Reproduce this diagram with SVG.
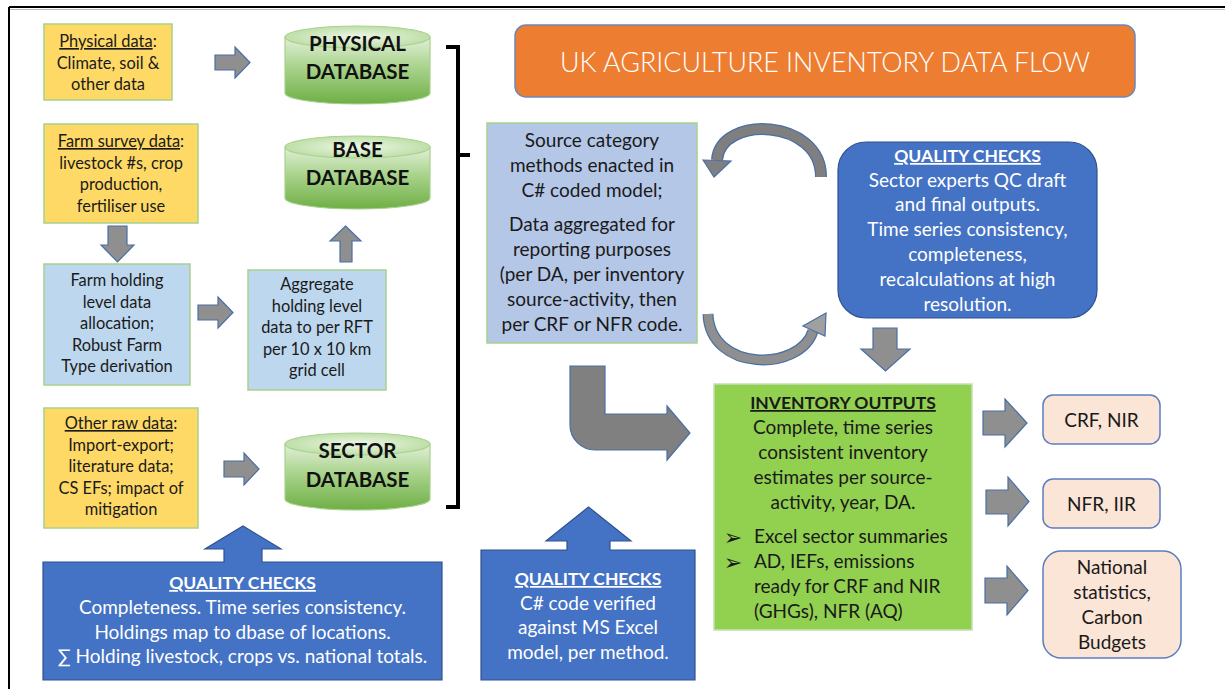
<svg xmlns="http://www.w3.org/2000/svg" width="1225" height="689" viewBox="0 0 1225 689">
<defs>
<linearGradient id="cylBody" x1="0" y1="0" x2="0" y2="1">
<stop offset="0" stop-color="#E2F0D9"/>
<stop offset="0.45" stop-color="#A9D38C"/>
<stop offset="1" stop-color="#6FAF45"/>
</linearGradient>
<radialGradient id="cylTop" cx="0.5" cy="0.5" r="0.6">
<stop offset="0" stop-color="#EEF7E8"/>
<stop offset="1" stop-color="#B5DA9B"/>
</radialGradient>
<style>
text{font-family:Lato,"Liberation Sans",sans-serif;text-anchor:middle;fill:#1a1a1a}
.t16{font-size:16.4px}
.t17{font-size:19px}
.h{font-size:17.5px;font-weight:bold;text-decoration:underline}
.w{fill:#ffffff}
.u{text-decoration:underline}
.yel{fill:#FFD966;stroke:#A9D18E;stroke-width:1.5}
.lb{fill:#BDD7EE;stroke:#A9D18E;stroke-width:1.5}
.qc{fill:#4472C4;stroke:#2F528F;stroke-width:1.2}
.arr{fill:#8F8F8F;stroke:#4A6FA5;stroke-width:1.2}
.out{fill:#FBE5D6;stroke:#5B7DC2;stroke-width:1.5}
.cyl{fill:url(#cylBody);stroke:#A9D18E;stroke-width:1.2}
.cyltop{fill:url(#cylTop);stroke:#A9D18E;stroke-width:1.2}
.dbt{font-size:20.5px;font-weight:bold;fill:#111}
.bul{font-family:"DejaVu Sans",sans-serif;font-size:22px;text-anchor:middle}
</style>
</defs>
<rect width="1225" height="689" fill="#ffffff"/>
<!-- frame -->
<line x1="9" y1="7" x2="1225" y2="7" stroke="#000" stroke-width="2"/>
<line x1="9" y1="9.5" x2="1225" y2="9.5" stroke="#BBBBBB" stroke-width="1"/>
<line x1="9" y1="7" x2="9" y2="689" stroke="#000" stroke-width="2"/>

<g id="title">
<rect x="515" y="25" width="620" height="72" rx="11" fill="#ED7D31" stroke="#6F87B8" stroke-width="1.5"/>
<text x="825" y="72" class="w" style="font-size:28px;font-weight:300" textLength="530" lengthAdjust="spacingAndGlyphs">UK AGRICULTURE INVENTORY DATA FLOW</text>
</g>

<g id="physical-data">
<rect class="yel" x="44" y="24" width="128" height="76"/>
<text class="t16" x="108" y="47"><tspan class="u">Physical data</tspan>:</text>
<text class="t16" x="108" y="68.5">Climate, soil &amp;</text>
<text class="t16" x="108" y="90">other data</text>
</g>

<g id="farm-survey">
<rect class="yel" x="44" y="124" width="154" height="99"/>
<text class="t16" x="121" y="147"><tspan class="u">Farm survey data</tspan>:</text>
<text class="t16" x="121" y="168.5">livestock #s, crop</text>
<text class="t16" x="121" y="190">production,</text>
<text class="t16" x="121" y="211.5">fertiliser use</text>
</g>

<g id="farm-holding">
<rect class="lb" x="44" y="264" width="146" height="121"/>
<text class="t16" x="117" y="286">Farm holding</text>
<text class="t16" x="117" y="307.5">level data</text>
<text class="t16" x="117" y="329">allocation;</text>
<text class="t16" x="117" y="350.5">Robust Farm</text>
<text class="t16" x="117" y="372">Type derivation</text>
</g>

<g id="aggregate">
<rect class="lb" x="248" y="270" width="138" height="120"/>
<text class="t16" x="317" y="290">Aggregate</text>
<text class="t16" x="317" y="311.5">holding level</text>
<text class="t16" x="317" y="333">data to per RFT</text>
<text class="t16" x="317" y="354.5">per 10 x 10 km</text>
<text class="t16" x="317" y="376">grid cell</text>
</g>

<g id="other-raw">
<rect class="yel" x="44" y="408" width="154" height="120"/>
<text class="t16" x="121" y="429"><tspan class="u">Other raw data</tspan>:</text>
<text class="t16" x="121" y="450.5">Import-export;</text>
<text class="t16" x="121" y="472">literature data;</text>
<text class="t16" x="121" y="493.5">CS EFs; impact of</text>
<text class="t16" x="121" y="515">mitigation</text>
</g>

<g id="physical-db">
<path class="cyl" d="M285 37 V93 A72.5 11 0 0 0 430 93 V37 Z"/>
<ellipse class="cyltop" cx="357.5" cy="37" rx="72.5" ry="11"/>
<text class="dbt" x="357.5" y="51">PHYSICAL</text>
<text class="dbt" x="357.5" y="79">DATABASE</text>
</g>

<g id="base-db">
<path class="cyl" d="M285 147 V198 A72.5 11 0 0 0 430 198 V147 Z"/>
<ellipse class="cyltop" cx="357.5" cy="147" rx="72.5" ry="11"/>
<text class="dbt" x="357.5" y="157">BASE</text>
<text class="dbt" x="357.5" y="185">DATABASE</text>
</g>

<g id="sector-db">
<path class="cyl" d="M285 444 V499 A72.5 11 0 0 0 430 499 V444 Z"/>
<ellipse class="cyltop" cx="357.5" cy="444" rx="72.5" ry="11"/>
<text class="dbt" x="357.5" y="458">SECTOR</text>
<text class="dbt" x="357.5" y="487">DATABASE</text>
</g>

<g id="bracket">
<path d="M446 47 H458 V507 H446 M458 155 H470" fill="none" stroke="#000" stroke-width="4"/>
</g>

<g id="qc-left">
<path class="qc" d="M43 562 H224 V549 H205 L243 526 L281 549 H262 V562 H442 V680 H43 Z"/>
<text class="h w" x="242.5" y="589">QUALITY CHECKS</text>
<text class="t17 w" x="242.5" y="614">Completeness. Time series consistency.</text>
<text class="t17 w" x="242.5" y="638.5">Holdings map to dbase of locations.</text>
<text class="t17 w" x="242.5" y="663">∑ Holding livestock, crops vs. national totals.</text>
</g>

<g id="source-category">
<rect x="487" y="123" width="210" height="220" fill="#B4C7E7" stroke="#A9D18E" stroke-width="1.5"/>
<text class="t17" x="592" y="147">Source category</text>
<text class="t17" x="592" y="172">methods enacted in</text>
<text class="t17" x="592" y="197">C# coded model;</text>
<text class="t17" x="592" y="231">Data aggregated for</text>
<text class="t17" x="592" y="256">reporting purposes</text>
<text class="t17" x="592" y="281">(per DA, per inventory</text>
<text class="t17" x="592" y="306">source-activity, then</text>
<text class="t17" x="592" y="331">per CRF or NFR code.</text>
</g>

<g id="qc-right">
<rect class="qc" x="838" y="142" width="259" height="176" rx="28"/>
<text class="h w" x="967.5" y="162">QUALITY CHECKS</text>
<text class="t17 w" x="967.5" y="186.5">Sector experts QC draft</text>
<text class="t17 w" x="967.5" y="211">and final outputs.</text>
<text class="t17 w" x="967.5" y="236">Time series consistency,</text>
<text class="t17 w" x="967.5" y="261">completeness,</text>
<text class="t17 w" x="967.5" y="286">recalculations at high</text>
<text class="t17 w" x="967.5" y="311">resolution.</text>
</g>

<g id="qc-middle">
<path class="qc" d="M481 550 H567 V541 H546 L588.5 507 L631 541 H610 V550 H695 V680 H481 Z"/>
<text class="h w" x="588" y="585">QUALITY CHECKS</text>
<text class="t17 w" x="588" y="609.5">C# code verified</text>
<text class="t17 w" x="588" y="634">against MS Excel</text>
<text class="t17 w" x="588" y="658.5">model, per method.</text>
</g>

<g id="inventory-outputs">
<rect x="714" y="384" width="258" height="246" fill="#92D050" stroke="#C5E0B4" stroke-width="1.5"/>
<text class="h" x="843" y="409">INVENTORY OUTPUTS</text>
<text class="t17" x="843" y="434">Complete, time series</text>
<text class="t17" x="843" y="459">consistent inventory</text>
<text class="t17" x="843" y="484">estimates per source-</text>
<text class="t17" x="843" y="509">activity, year, DA.</text>
<text class="bul" x="733" y="545">➢</text>
<text class="bul" x="733" y="570">➢</text>
<text class="t17" x="754" y="543" style="text-anchor:start">Excel sector summaries</text>
<text class="t17" x="754" y="568" style="text-anchor:start">AD, IEFs, emissions</text>
<text class="t17" x="754" y="593" style="text-anchor:start">ready for CRF and NIR</text>
<text class="t17" x="754" y="618" style="text-anchor:start">(GHGs), NFR (AQ)</text>
</g>

<g id="crf-nir">
<rect class="out" x="1043" y="395" width="117" height="49" rx="10"/>
<text class="t17" x="1101.5" y="427">CRF, NIR</text>
</g>
<g id="nfr-iir">
<rect class="out" x="1043" y="479" width="117" height="49" rx="10"/>
<text class="t17" x="1101.5" y="511">NFR, IIR</text>
</g>
<g id="national-statistics">
<rect class="out" x="1043" y="551" width="138" height="107" rx="18"/>
<text class="t17" x="1112" y="574">National</text>
<text class="t17" x="1112" y="599">statistics,</text>
<text class="t17" x="1112" y="624">Carbon</text>
<text class="t17" x="1112" y="649">Budgets</text>
</g>

<g id="connectors">
<path class="arr" d="M215 55 H235 V47 L250 62.5 L235 78 V70 H215 Z"/>
<path class="arr" d="M108 226 H127 V245 H134 L117.5 262 L101 245 H108 Z"/>
<path class="arr" d="M198 305 H218 V297 L233 312.5 L218 328 V320 H198 Z"/>
<path class="arr" d="M345.5 226 L361 241 H352 V262 H340 V241 H330 Z"/>
<path class="arr" d="M224 461 H244 V453 L259 469 L244 485 V477 H224 Z"/>
<!-- cycle arrows -->
<path d="M821 177 C821 118, 720 115, 717 160" fill="none" stroke="#4A6FA5" stroke-width="12"/>
<path d="M821 177 C821 118, 720 115, 717 160" fill="none" stroke="#7F7F7F" stroke-width="9.5"/>
<path d="M703 160 L731 161 L714 177 Z" fill="#7F7F7F" stroke="#4A6FA5" stroke-width="1.2"/>
<path d="M708 314 C710 372, 800 372, 813 331" fill="none" stroke="#4A6FA5" stroke-width="11"/>
<path d="M708 314 C710 372, 800 372, 813 331" fill="none" stroke="#8F8F8F" stroke-width="8.5"/>
<path d="M826 313 L825 336 L803 326 Z" fill="#A0A0A0" stroke="#4A6FA5" stroke-width="1.2"/>
<!-- down arrow below QC right -->
<path class="arr" d="M873 328 H897 V349 H910 L885.5 371 L861 349 H873 Z"/>
<!-- L arrow -->
<path d="M570 366 H605 V414 H667 V406 L690 433 L667 460 V450 H595 A25 25 0 0 1 570 425 Z" fill="#808080" stroke="#4A6FA5" stroke-width="1.2"/>
<!-- output arrows -->
<path class="arr" d="M983 411 H1005 V399 L1027 423 L1005 447 V435 H983 Z"/>
<path class="arr" d="M986 490 H1008 V477 L1029 501.5 L1008 526 V514 H986 Z"/>
<path class="arr" d="M985 578 H1007 V566 L1028 590.5 L1007 615 V603 H985 Z"/>
</g>
</svg>
